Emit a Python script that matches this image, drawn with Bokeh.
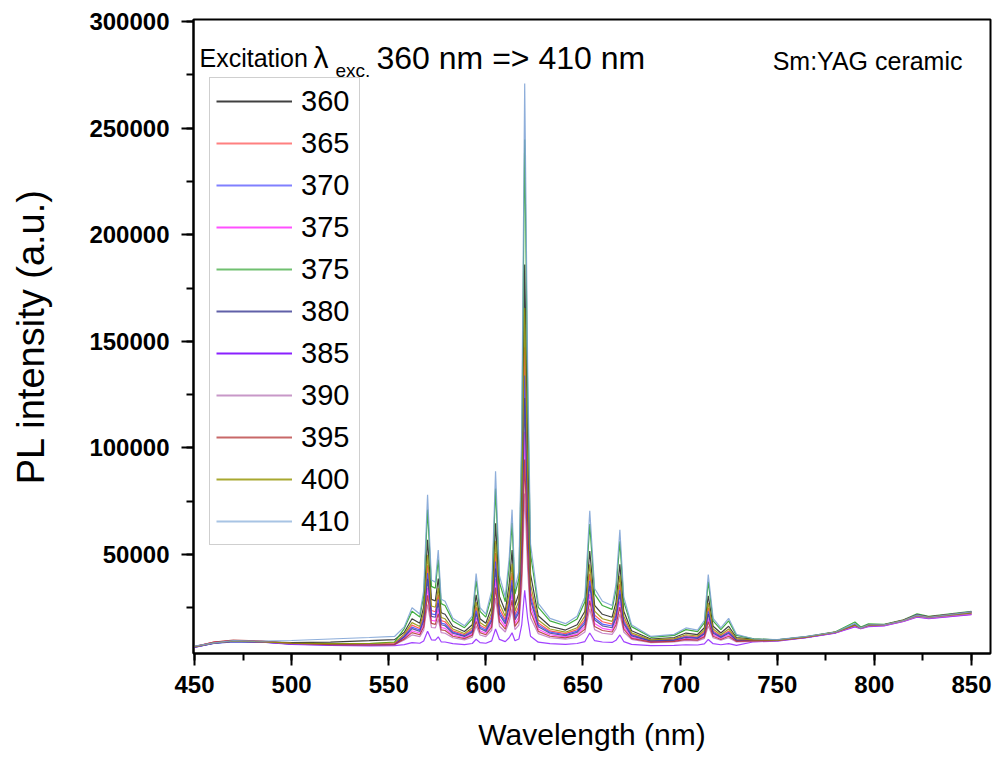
import math
from bokeh.plotting import figure
from bokeh.layouts import row
from bokeh.models import (Range1d, SingleIntervalTicker, NumeralTickFormatter,
                          Legend, LegendItem, Label)
from bokeh.core.properties import value
from bokeh.embed import file_html
from bokeh.resources import INLINE

# ---------------- data ----------------
wavelength = [450, 460, 470, 485, 500, 520, 540, 553,
              558, 562, 566, 568, 570, 572, 574, 575.5, 577, 579, 583, 589,
              593, 595, 597, 600, 603, 605, 607, 610, 612, 613.5, 615, 617,
              618.5, 620, 621.5, 623, 627, 633, 641, 647, 651, 653.5, 656, 660,
              665, 667, 669, 671, 675, 685, 697, 703, 709, 712.5, 714.5, 717,
              721, 725, 729,
              738, 750, 765, 780, 790, 793, 797, 805, 815, 822, 828, 850]

s360 = [6800, 8600, 9300, 9000, 8600, 8800, 9500, 10000,
        13500, 19800, 17700, 25400, 56900, 28900, 28200, 38700, 22600, 21900, 16300, 13800,
        17000, 31000, 19800, 17700, 25400, 64600, 30300, 23300, 35900, 52000, 26100, 31700,
        79300, 186000, 100300, 40800, 21200, 16300, 14500, 17000, 23300, 51600, 26100, 21900,
        20500, 27500, 45300, 23300, 14200, 10300, 11000, 13100, 12400, 15600, 30600, 16300,
        13100, 16300, 11000,
        10200, 9900, 11300, 13400, 16800, 15300, 16700, 16800, 18800, 21200, 20300, 22400]

s365 = [6600, 8800, 9600, 9200, 8200, 7800, 7800, 8200,
        12000, 16800, 15200, 21000, 44900, 23700, 23100, 31100, 18900, 18400, 14100, 12300,
        14700, 25300, 16800, 15200, 21000, 50700, 24700, 19400, 29000, 41200, 21500, 25800,
        61800, 147200, 77700, 32700, 17800, 14100, 12800, 14700, 19400, 40900, 21500, 18400,
        17300, 22600, 36100, 19400, 12500, 9600, 10200, 11700, 11200, 13600, 25000, 14100,
        11700, 14100, 10200,
        9800, 9700, 11200, 13500, 16500, 15400, 16500, 16800, 18900, 21000, 20400, 22000]

s370 = [6500, 8200, 9000, 8800, 8000, 7600, 7500, 7800,
        11600, 15900, 14500, 19700, 41300, 22100, 21700, 28900, 17800, 17300, 13500, 11800,
        14000, 23600, 15900, 14500, 19700, 46600, 23100, 18300, 26900, 38000, 20200, 24100,
        56700, 134000, 71100, 30300, 16900, 13500, 12300, 14000, 18300, 37700, 20200, 17300,
        16400, 21200, 33400, 18300, 12100, 9400, 9900, 11300, 10900, 13000, 23300, 13500,
        11300, 13500, 9900,
        9600, 9600, 11100, 13300, 17300, 15600, 17100, 16900, 19100, 21600, 20600, 22800]

s375a = [6700, 8700, 9400, 9000, 8100, 7700, 7600, 7900,
         10700, 14200, 13000, 17200, 34300, 19100, 18700, 24400, 15700, 15300, 12300, 10900,
         12600, 20200, 14200, 13000, 17200, 38500, 19900, 16100, 22900, 31600, 17600, 20600,
         46500, 107600, 57900, 25600, 14900, 12300, 11300, 12600, 16100, 31400, 17600, 15300,
         14500, 18300, 28000, 16100, 11100, 9000, 9400, 10500, 10200, 11900, 20000, 12300,
         10500, 12300, 9400,
         9500, 9600, 11100, 13200, 16200, 15200, 16300, 16600, 18600, 20800, 20000, 21900]

s375b = [6600, 8400, 9200, 9000, 8300, 8000, 8200, 8900,
         15200, 23300, 20600, 30500, 71000, 35000, 34100, 47600, 26900, 26000, 18800, 15600,
         19700, 37700, 23300, 20600, 30500, 80900, 36800, 27800, 44000, 64700, 31400, 38600,
         99800, 244700, 126800, 50300, 25100, 18800, 16500, 19700, 27800, 64200, 31400, 26000,
         24200, 33200, 56100, 27800, 16100, 11100, 12000, 14700, 13800, 17900, 37200, 18800,
         14700, 18800, 12000,
         10400, 9900, 11400, 13700, 18300, 15900, 17400, 17200, 19300, 22100, 20900, 23300]

s380 = [6400, 8300, 9300, 8900, 7900, 7500, 7400, 7700,
        11200, 15200, 13900, 18700, 38500, 20900, 20500, 27100, 17000, 16500, 13000, 11500,
        13400, 22200, 15200, 13900, 18700, 43400, 21800, 17400, 25300, 35400, 19200, 22700,
        52600, 123400, 65800, 28400, 16100, 13000, 11900, 13400, 17400, 35200, 19200, 16500,
        15600, 20000, 31300, 17400, 11700, 9300, 9700, 11000, 10600, 12600, 22000, 13000,
        11000, 13000, 9700,
        9600, 9500, 11000, 13300, 17000, 15500, 16900, 17000, 19100, 21800, 20700, 23100]

s385 = [6500, 8400, 9200, 8800, 7800, 7300, 7100, 7200,
        7700, 8600, 8300, 9400, 13900, 9900, 9800, 11300, 9000, 8900, 8100, 7700,
        8200, 10200, 8600, 8300, 9400, 15000, 10100, 9100, 10900, 13200, 9500, 10300,
        17100, 33200, 20100, 11600, 8800, 8100, 7800, 8200, 9100, 13100, 9500, 8900,
        8700, 9700, 12200, 9100, 7800, 7200, 7300, 7600, 7500, 8000, 10100, 8100,
        7600, 8100, 7300,
        9000, 9300, 10900, 13100, 16000, 15100, 16100, 16500, 18500, 20500, 19900, 21700]

s390 = [6600, 8600, 9500, 9100, 8100, 7600, 7400, 7600,
        9800, 12200, 11400, 14400, 26500, 15700, 15500, 19500, 13300, 13000, 10900, 9900,
        11100, 16500, 12200, 11400, 14400, 29500, 16300, 13600, 18400, 24600, 14700, 16800,
        35200, 78600, 43300, 20300, 12800, 10900, 10200, 11100, 13600, 24500, 14700, 13000,
        12500, 15200, 22100, 13600, 10100, 8600, 8900, 9700, 9400, 10600, 16400, 10900,
        9700, 10900, 8900,
        9200, 9400, 11000, 13300, 16400, 15300, 16400, 16700, 18700, 20900, 20100, 22100]

s395 = [6700, 8900, 9800, 9300, 8300, 7700, 7500, 7700,
        10300, 13300, 12300, 15900, 30800, 17600, 17200, 22200, 14600, 14300, 11600, 10500,
        12000, 18600, 13300, 12300, 15900, 34400, 18200, 14900, 20900, 28500, 16200, 18900,
        41300, 94500, 51200, 23200, 13900, 11600, 10800, 12000, 14900, 28300, 16200, 14300,
        13600, 16900, 25300, 14900, 10600, 8800, 9200, 10100, 9800, 11300, 18400, 11600,
        10100, 11600, 9200,
        9400, 9600, 11200, 13600, 16800, 15600, 16800, 17000, 19200, 21500, 20700, 22900]

s400 = [6700, 8500, 9300, 9000, 8400, 8100, 8200, 8600,
        12600, 18000, 16200, 22800, 49800, 25800, 25200, 34200, 20400, 19800, 15000, 12900,
        15600, 27600, 18000, 16200, 22800, 56400, 27000, 21000, 31800, 45600, 23400, 28200,
        69000, 165600, 87000, 36000, 19200, 15000, 13500, 15600, 21000, 45300, 23400, 19800,
        18600, 24600, 39900, 21000, 13200, 9900, 10500, 12300, 11700, 14400, 27300, 15000,
        12300, 15000, 10500,
        9900, 9800, 11300, 13500, 16900, 15500, 16800, 17000, 19000, 21300, 20500, 22600]

s410 = [7000, 8500, 9500, 9300, 9600, 10300, 11000, 11500,
        16000, 25000, 22000, 33000, 78000, 38000, 37000, 52000, 29000, 28000, 20000, 16500,
        21000, 41000, 25000, 22000, 33000, 89000, 40000, 30000, 48000, 71000, 34000, 42000,
        110000, 271000, 140000, 55000, 27000, 20000, 17500, 21000, 30000, 70500, 34000, 28000,
        26000, 36000, 61500, 30000, 17000, 11500, 12500, 15500, 14500, 19000, 40500, 20000,
        15500, 20000, 12500,
        10300, 10000, 11500, 13600, 17500, 15500, 17000, 17000, 19000, 21500, 20500, 23000]

series_labels = ["360", "365", "370", "375", "375", "380", "385", "390", "395", "400", "410"]
series_values = [s360, s365, s370, s375a, s375b, s380, s385, s390, s395, s400, s410]
series_colors = ["#202020", "#ff4040", "#4040ff", "#ff30ff", "#20a020", "#404090",
                 "#9020ff", "#c070c0", "#b03030", "#909000", "#7aa0d4"]
legend_colors = ["#404040", "#ff8080", "#8080ff", "#ff50ff", "#70c070", "#6060a8",
                 "#8a20ff", "#c898c8", "#c86868", "#a8a830", "#a8c4e4"]

x_ticks_interval = 50
y_ticks_interval = 50000

FONT = "Liberation Sans"
LEFT_W = 60  # width of the strip that carries the vertical axis title

# ---------------- y-axis title strip ----------------
# (plots in a row share top/bottom borders, so its frame spans page y 19..653)
ylab = figure(width=LEFT_W, height=757, output_backend="svg", toolbar_location=None,
              x_range=Range1d(0, LEFT_W), y_range=Range1d(653, 19),
              x_axis_location=None, y_axis_location=None, min_border=0,
              min_border_top=19, min_border_bottom=104)
ylab.title.visible = False
ylab.xgrid.visible = False
ylab.ygrid.visible = False
ylab.outline_line_color = None
ylab.background_fill_color = "white"
ylab.border_fill_color = "white"
ylab.text(x=[30], y=[336], text=["PL intensity (a.u.)"], angle=math.pi / 2,
          text_align="center", text_baseline="middle",
          text_font=value(FONT), text_font_size="38px", text_color="black")

# ---------------- main figure ----------------
p = figure(width=992 - LEFT_W, height=757, output_backend="svg", toolbar_location=None,
           x_range=Range1d(449.5, 859.8), y_range=Range1d(3500, 301000),
           min_border_left=193 - LEFT_W, min_border_right=2, min_border_top=19,
           min_border_bottom=104)
p.title.visible = False
p.xgrid.visible = False
p.ygrid.visible = False
p.background_fill_color = "white"
p.border_fill_color = "white"
p.outline_line_color = "black"
p.outline_line_width = 2
p.outline_line_alpha = 1.0

p.xaxis.ticker = SingleIntervalTicker(interval=x_ticks_interval, num_minor_ticks=2)
p.yaxis.ticker = SingleIntervalTicker(interval=y_ticks_interval, num_minor_ticks=2)
p.yaxis.formatter = NumeralTickFormatter(format="0")

for ax in (p.xaxis[0], p.yaxis[0]):
    ax.axis_line_width = 2
    ax.axis_line_color = "black"
    ax.major_tick_out = 12
    ax.major_tick_in = 0
    ax.minor_tick_out = 7
    ax.minor_tick_in = 0
    ax.major_tick_line_width = 2
    ax.minor_tick_line_width = 2
    ax.major_tick_line_color = "black"
    ax.minor_tick_line_color = "black"
    ax.major_label_text_font = FONT
    ax.major_label_text_font_size = "24px"
    ax.major_label_text_font_style = "bold"
    ax.major_label_text_color = "black"

p.xaxis.major_label_standoff = 10
p.yaxis.major_label_standoff = 12

p.xaxis.axis_label = "Wavelength (nm)"
p.xaxis.axis_label_text_font = FONT
p.xaxis.axis_label_text_font_size = "30px"
p.xaxis.axis_label_text_font_style = "normal"
p.xaxis.axis_label_text_color = "black"
p.xaxis.axis_label_standoff = 22

items = []
for lab, vals, col, lcol in zip(series_labels, series_values, series_colors, legend_colors):
    p.line(wavelength, vals, line_color=col, line_width=1.2, line_alpha=0.85)
    # legend swatch: a one-point line (draws nothing in the plot), only its style
    # is shown in the legend
    swatch = p.line(wavelength[:1], vals[:1], line_color=lcol, line_width=2)
    items.append(LegendItem(label=lab, renderers=[swatch]))

legend = Legend(items=items, location=(16, 108))
legend.label_text_font = FONT
legend.label_text_font_size = "29px"
legend.label_text_color = "black"
legend.glyph_width = 76
legend.glyph_height = 34
legend.label_height = 34
legend.label_width = 52
legend.label_standoff = 9
legend.spacing = 8
legend.padding = 6
legend.margin = 0
legend.border_line_color = "#a0a0a0"
legend.border_line_width = 1
legend.background_fill_color = "white"
legend.background_fill_alpha = 1.0
p.add_layout(legend)

def add_text(txt, x, y, size, align="left", baseline="alphabetic"):
    p.add_layout(Label(x=x, y=y, x_units="screen", y_units="screen", text=txt,
                       text_font=FONT, text_font_size=size, text_color="black",
                       text_align=align, text_baseline=baseline))

add_text("Excitation", 6, 596, "25px")
add_text("λ", 120, 596, "30px")
add_text("exc.", 142, 583, "19px")
add_text("360 nm => 410 nm", 183, 596, "32px")
add_text("Sm:YAG ceramic", 769, 593, "25px", align="right")

layout = row(ylab, p)
open("out.html", "w").write(file_html(layout, INLINE))
